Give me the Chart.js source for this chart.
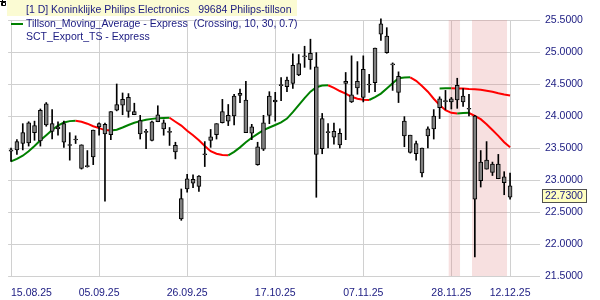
<!DOCTYPE html>
<html><head><meta charset="utf-8">
<script src="https://cdn.jsdelivr.net/npm/chart.js@4.4.1/dist/chart.umd.min.js"></script>
<style>html,body{margin:0;padding:0;background:#fff;}#wrap{position:relative;width:600px;height:300px;}</style>
</head><body><div id="wrap"><canvas id="c" width="600" height="300"></canvas></div>
<script>
const dates = ['15.08.25','18.08.25','19.08.25','20.08.25','21.08.25','22.08.25','25.08.25','26.08.25','27.08.25','28.08.25','29.08.25',
'01.09.25','02.09.25','03.09.25','04.09.25','05.09.25','08.09.25','09.09.25','10.09.25','11.09.25','12.09.25','15.09.25','16.09.25','17.09.25','18.09.25','19.09.25','22.09.25','23.09.25','24.09.25','25.09.25','26.09.25','29.09.25','30.09.25',
'01.10.25','02.10.25','03.10.25','06.10.25','07.10.25','08.10.25','09.10.25','10.10.25','13.10.25','14.10.25','15.10.25','16.10.25','17.10.25','20.10.25','21.10.25','22.10.25','23.10.25','24.10.25','27.10.25','28.10.25','29.10.25','30.10.25','31.10.25',
'03.11.25','04.11.25','05.11.25','06.11.25','07.11.25','10.11.25','11.11.25','12.11.25','13.11.25','14.11.25','17.11.25','18.11.25','19.11.25','20.11.25','21.11.25','24.11.25','25.11.25','26.11.25','27.11.25','28.11.25',
'01.12.25','02.12.25','03.12.25','04.12.25','05.12.25','08.12.25','09.12.25','10.12.25','11.12.25','12.12.25'];

const open  = [23.45,23.47,23.57,23.58,23.85,23.61,24.19,23.88,23.80,23.88,23.54,23.625,23.55,23.21,23.36,23.83,23.87,23.71,24.09,24.26,24.07,24.07,23.93,23.745,23.62,23.91,23.895,23.76,23.54,22.71,22.86,23.01,22.90,
23.395,23.62,23.71,23.895,24.01,24.00,24.32,24.25,23.83,23.52,23.48,24.01,24.25,24.475,24.46,24.51,24.82,24.925,24.88,24.77,23.49,23.755,23.76,
23.55,24.51,24.33,24.44,24.73,24.485,24.52,25.28,25.25,24.815,24.62,23.92,23.70,23.57,23.50,23.69,23.80,24.13,24.225,24.22,
24.25,24.31,24.105,24.00,22.99,23.17,23.25,23.25,23.05,22.91];
const close = [23.47,23.60,23.74,23.895,23.74,24.09,23.86,23.76,23.83,23.59,23.555,23.64,23.18,23.225,23.78,23.88,23.72,24.07,24.18,24.17,24.29,24.02,23.72,23.76,23.91,24.02,23.80,23.745,23.44,22.39,23.02,22.95,23.06,
23.41,23.675,23.88,24.07,23.92,24.31,24.355,23.74,23.73,23.24,23.895,24.31,24.22,24.49,24.56,24.79,24.64,24.94,24.98,23.40,23.96,23.74,23.67,
23.73,24.54,24.22,24.54,24.29,24.50,25.06,25.44,24.99,24.80,24.37,23.69,23.43,23.41,23.11,23.80,24.00,24.27,24.24,24.27,
24.48,24.22,24.12,22.70,23.28,23.31,23.12,23.02,22.96,22.73];
const high  = [23.50,23.63,23.88,23.91,23.92,24.11,24.21,24.10,23.91,23.92,23.74,23.69,23.55,23.46,23.78,23.895,23.89,24.07,24.50,24.36,24.35,24.20,24.01,23.79,23.92,24.16,23.94,23.82,23.59,22.86,23.09,23.08,23.07,
23.60,23.79,23.88,24.26,24.18,24.34,24.42,24.54,23.87,23.59,24.01,24.38,24.37,24.60,24.61,24.97,24.96,25.09,25.20,24.99,24.04,23.88,23.89,
23.80,24.68,24.94,24.85,24.94,24.65,25.06,25.52,25.38,24.83,24.69,23.99,23.70,23.61,23.50,23.83,24.10,24.30,24.40,24.29,
24.59,24.43,24.34,24.01,23.46,23.60,23.28,23.40,23.13,23.11];
const low   = [23.29,23.40,23.47,23.53,23.62,23.53,23.84,23.64,23.70,23.51,23.31,23.57,23.17,23.20,23.24,23.70,22.67,23.63,24.08,24.02,23.98,24.02,23.64,23.49,23.61,23.91,23.70,23.54,23.33,22.37,22.81,22.88,22.82,
23.21,23.51,23.64,23.89,23.85,23.86,24.21,23.74,23.63,23.23,23.46,23.88,23.92,24.24,24.38,24.43,24.63,24.76,24.73,22.73,23.41,23.50,23.56,
23.50,23.63,24.21,24.34,24.22,24.37,24.38,25.18,24.98,24.40,24.21,23.52,23.42,23.31,23.05,23.50,23.64,23.96,24.10,24.11,
24.12,24.15,24.00,21.80,22.89,23.17,23.07,23.02,22.77,22.70];

const tillson = [23.29,23.33,23.38,23.45,23.53,23.62,23.70,23.78,23.85,23.90,23.92,23.925,23.91,23.88,23.84,23.81,23.78,23.775,23.785,23.82,23.86,23.895,23.92,23.94,23.955,23.965,23.97,23.972,23.91,23.85,23.77,23.70,23.62,
23.53,23.45,23.41,23.39,23.385,23.44,23.51,23.59,23.66,23.72,23.78,23.82,23.86,23.90,23.96,24.06,24.17,24.28,24.38,24.45,24.475,24.48,24.44,
24.39,24.35,24.30,24.27,24.255,24.25,24.295,24.35,24.43,24.51,24.59,24.60,24.605,24.55,24.47,24.38,24.27,24.17,24.09,24.05,
24.04,24.045,24.05,24.00,23.95,23.87,23.78,23.69,23.59,23.51];
const tillsonExport = [null,null,null,null,null,null,null,null,null,null,null,null,null,null,null,null,null,null,null,null,null,null,null,null,null,null,null,null,null,null,null,null,null,
null,null,null,null,null,null,null,null,null,null,null,null,null,null,null,null,null,null,null,null,null,null,null,
null,null,null,null,null,null,null,null,null,null,null,null,null,null,null,null,null,24.43,24.432,24.435,
24.43,24.428,24.42,24.418,24.41,24.395,24.38,24.355,24.335,24.32];

const shadeDays = ['28.11.25','01.12.25','04.12.25','05.12.25','08.12.25','09.12.25','10.12.25','11.12.25'];
const tickDates = ['15.08.25','05.09.25','26.09.25','17.10.25','07.11.25','28.11.25','12.12.25'];
const yMin = 21.5, yMax = 25.5, yStep = 0.5;
const lastPrice = 22.73;
const headerText = '[1 D] Koninklijke Philips Electronics   99684 Philips-tillson';
const legendTillson = 'Tillson_Moving_Average - Express  (Crossing, 10, 30, 0.7)';
const legendExport = 'SCT_Export_TS - Express';

const NAVY = '#1a1a80', GREEN = '#008000', RED = '#ff0000', GRID = '#d0d0d0';
const FONT = {family: '"Liberation Sans", Arial, sans-serif', size: 10.5};

const segColor = c => (c.p1.parsed.y > c.p0.parsed.y ? GREEN : RED);

// shaded signal zones: one polygon per run of consecutive shaded days (edges at half-day)
const shadeIdx = shadeDays.map(d => dates.indexOf(d)).sort((a, b) => a - b);
const shadePoints = [];
shadeIdx.forEach((i, k) => {
  if (k > 0 && i !== shadeIdx[k - 1] + 1) shadePoints.push({x: i - 1, y: null});
  if (k === 0 || i !== shadeIdx[k - 1] + 1) shadePoints.push({x: i - 0.5, y: yMax});
  if (k === shadeIdx.length - 1 || shadeIdx[k + 1] !== i + 1) shadePoints.push({x: i + 0.5, y: yMax});
});

const overlay = {
  id: 'overlay',
  afterDraw(chart) {
    const ctx = chart.ctx;
    ctx.save();
    ctx.fillStyle = '#fbfbd3';
    ctx.fillRect(7, 0, 290, 16);
    ctx.strokeStyle = '#000'; ctx.lineWidth = 1;
    ctx.beginPath();
    ctx.moveTo(0, 1.5); ctx.lineTo(6, 1.5);
    ctx.moveTo(2.5, 0); ctx.lineTo(2.5, 5);
    ctx.rect(1.5, 2.5, 4, 3);
    ctx.stroke();
    ctx.font = '10.5px "Liberation Sans", Arial, sans-serif';
    ctx.fillStyle = NAVY;
    ctx.textBaseline = 'middle';
    ctx.textAlign = 'left';
    ctx.fillText(headerText, 26, 10);
    ctx.fillText(legendTillson, 26, 24.5);
    ctx.fillText(legendExport, 26, 37.5);
    ctx.strokeStyle = GREEN; ctx.lineWidth = 2;
    ctx.beginPath(); ctx.moveTo(11, 24); ctx.lineTo(23, 24); ctx.stroke();
    const y = Math.round(chart.scales.y.getPixelForValue(lastPrice)) - 1;
    ctx.fillStyle = '#ffffc0';
    ctx.fillRect(542.5, y - 6.5, 44, 13);
    ctx.strokeStyle = '#505050'; ctx.lineWidth = 1;
    ctx.strokeRect(542.5, y - 6.5, 44, 13);
    ctx.fillStyle = NAVY;
    ctx.fillText(lastPrice.toFixed(4), 545, y + 0.5);
    ctx.restore();
  }
};

// first date label starts at its grid line, the others are centred on theirs
function patchLabelAlign(s) {
  if (!s._alignPatched) {
    s._alignPatched = true;
    const orig = s._computeLabelItems;
    s._computeLabelItems = function (area) {
      const items = orig.call(this, area);
      items.forEach((it, k) => { it.options.textAlign = k === 0 ? 'left' : 'center'; });
      return items;
    };
  }
  s._labelItems = null;
}

new Chart(document.getElementById('c'), {
  type: 'bar',
  data: {
    labels: dates,
    datasets: [
      {type: 'line', label: 'signal', xAxisID: 'x2', data: shadePoints,
       borderWidth: 0, pointRadius: 0, fill: 'start', backgroundColor: 'rgba(225,130,130,0.25)',
       spanGaps: false, tension: 0, order: 10},
      {type: 'line', label: 'Tillson', data: tillson, borderColor: GREEN, borderWidth: 2, pointRadius: 0,
       segment: {borderColor: segColor}, order: 8, tension: 0},
      {type: 'line', label: 'SCT_Export_TS', data: tillsonExport, borderColor: GREEN, borderWidth: 2, pointRadius: 0,
       segment: {borderColor: segColor}, order: 8, tension: 0},
      {type: 'bar', label: 'range', data: dates.map((d, i) => [low[i], high[i]]), backgroundColor: '#000',
       barThickness: 1, grouped: false, order: 6, clip: false},
      {type: 'bar', label: 'body', data: dates.map((d, i) => [open[i], close[i]]), backgroundColor: '#808080',
       borderColor: '#000', borderWidth: 1, borderSkipped: false, barThickness: 4, grouped: false, order: 5}
    ]
  },
  options: {
    responsive: false, animation: false, devicePixelRatio: 1,
    layout: {padding: {left: 6, right: 0, top: 20, bottom: 0}},
    plugins: {legend: {display: false}, tooltip: {enabled: false}},
    scales: {
      x: {
        type: 'category', offset: true,
        grid: {offset: false, color: GRID, drawTicks: false},
        border: {display: false},
        ticks: {autoSkip: false, maxRotation: 0, align: 'inner', color: NAVY, font: FONT, padding: 11},
        afterBuildTicks: s => { s.ticks = s.ticks.filter(t => tickDates.includes(dates[t.value])); },
        afterFit: s => { s.height = 24; },
        afterUpdate: patchLabelAlign
      },
      x2: {type: 'linear', display: false, offset: false, bounds: 'data', min: -0.5, max: dates.length - 0.5,
           grid: {offset: false}},
      y: {
        position: 'right', min: yMin, max: yMax,
        grid: {color: GRID, tickLength: 27},
        border: {display: false},
        ticks: {stepSize: yStep, color: NAVY, font: FONT, padding: 5, callback: v => v.toFixed(4)},
        afterFit: s => { s.width = 87; }
      }
    }
  },
  plugins: [overlay]
});
</script>
</body></html>
